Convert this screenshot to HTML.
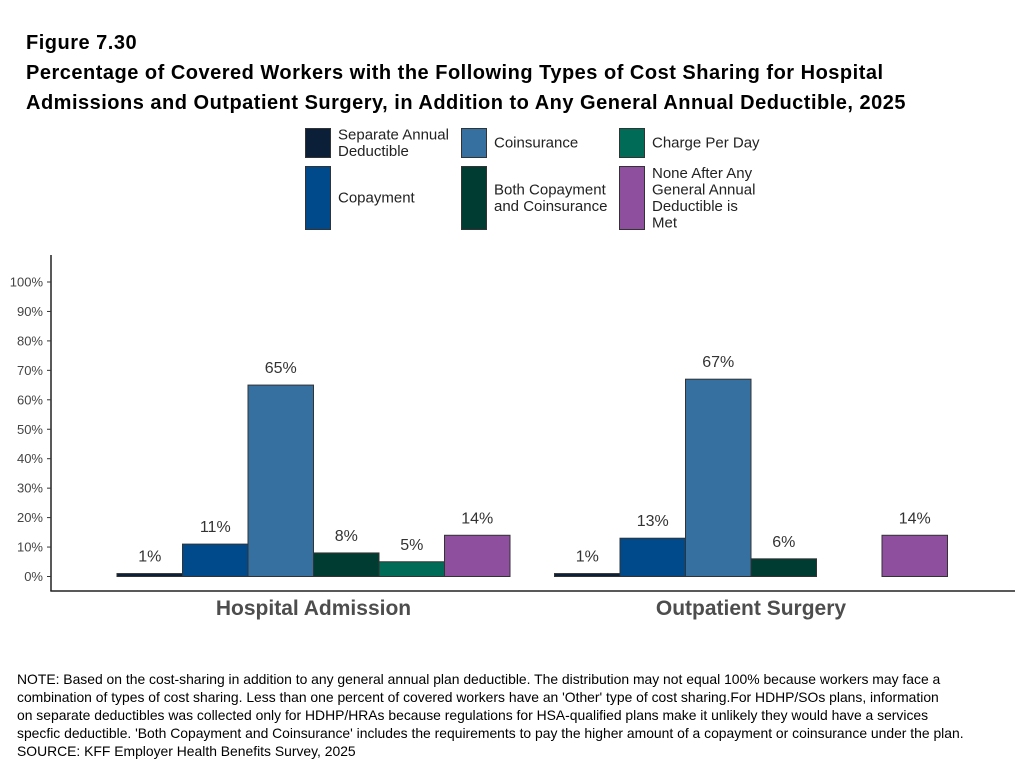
<!DOCTYPE html>
<html><head><meta charset="utf-8">
<style>
body{margin:0;background:#fff;font-family:"Liberation Sans",Arial,sans-serif;}
#wrap{position:relative;width:1023px;height:770px;overflow:hidden;}
.t{position:absolute;left:26px;font-weight:bold;font-size:20px;letter-spacing:0.5px;color:#000;white-space:nowrap;}
.note{position:absolute;left:17px;top:670px;font-size:13.9px;line-height:18px;color:#000;white-space:nowrap;}
</style></head><body>
<div id="wrap">
<div class="t" style="top:32px">Figure 7.30</div>
<div class="t" style="top:62px">Percentage of Covered Workers with the Following Types of Cost Sharing for Hospital</div>
<div class="t" style="top:92px">Admissions and Outpatient Surgery, in Addition to Any General Annual Deductible, 2025</div>
<svg id="svg" width="1023" height="770" style="position:absolute;left:0;top:0"></svg>
<div class="note">NOTE: Based on the cost-sharing in addition to any general annual plan deductible. The distribution may not equal 100% because workers may face a<br>combination of types of cost sharing. Less than one percent of covered workers have an 'Other' type of cost sharing.For HDHP/SOs plans, information<br>on separate deductibles was collected only for HDHP/HRAs because regulations for HSA-qualified plans make it unlikely they would have a services<br>specfic deductible. 'Both Copayment and Coinsurance' includes the requirements to pay the higher amount of a copayment or coinsurance under the plan.<br>SOURCE: KFF Employer Health Benefits Survey, 2025</div>
</div>
<script>
const categories = ["Hospital Admission","Outpatient Surgery"];
const seriesNames = ["Separate Annual Deductible","Copayment","Coinsurance","Both Copayment and Coinsurance","Charge Per Day","None After Any General Annual Deductible is Met"];
const separateDeductible = [1,1];
const copayment = [11,13];
const coinsurance = [65,67];
const bothCopayCoins = [8,6];
const chargePerDay = [5,0];
const noneAfterDeductible = [14,14];
const yTicks = [0,10,20,30,40,50,60,70,80,90,100];

const seriesValues=[separateDeductible,copayment,coinsurance,bothCopayCoins,chargePerDay,noneAfterDeductible];
const colors=["#0b1f38","#004a8b","#3570a0","#003c32","#006b56","#8f4f9f"];
const svg=document.getElementById('svg');
const NS="http://www.w3.org/2000/svg";
function mk(tag,attrs,parent){const e=document.createElementNS(NS,tag);for(const k in attrs)e.setAttribute(k,attrs[k]);(parent||svg).appendChild(e);return e;}
const y0=576.5,y100=282;
const yS=v=>y0-(y0-y100)*v/100;
const groupCenters=[313.5,751];
const bw=65.5;
const xS=(g,s)=>groupCenters[g]+(s-3)*bw;

const legPos=[[305,128,29],[305,166,63],[461,128,29],[461,166,63],[619,128,29],[619,166,63]];
const legLines=[["Separate Annual","Deductible"],["Copayment"],["Coinsurance"],["Both Copayment","and Coinsurance"],["Charge Per Day"],["None After Any","General Annual","Deductible is","Met"]];
[0,1,2,3,4,5].forEach((s,i)=>{
  const [x,y,h]=legPos[i];
  const g=mk('g',{});
  
  
  mk('rect',{x:x+0.5,y:y+0.5,width:25,height:h,fill:colors[s],stroke:'#333','stroke-width':1},g);
  const lines=legLines[s];const lh=16.5;
  const cy=y+h/2;const start=cy-(lines.length-1)*lh/2+5;
  lines.forEach((l,j)=>{const t=mk('text',{x:x+33,y:start+j*lh,'font-size':15,fill:'#222'},g);t.textContent=l;});
});

const ax=mk('line',{x1:51,y1:255,x2:51,y2:591,stroke:'#222','stroke-width':1.5});

const bx=mk('line',{x1:50.3,y1:591,x2:1015,y2:591,stroke:'#222','stroke-width':1.5});

yTicks.forEach(v=>{
  const y=yS(v);
  const tk=mk('line',{x1:47,y1:y,x2:51,y2:y,stroke:'#333','stroke-width':1});
  
  const t=mk('text',{x:43,y:y+4.5,'font-size':13,fill:'#444','text-anchor':'end'});
  
  t.textContent=v+'%';
});
categories.forEach((c,g)=>{
  const t=mk('text',{x:groupCenters[g],y:615,'font-size':21,'font-weight':'bold',fill:'#4d4d4d','text-anchor':'middle'});
  
  t.textContent=c;
});
seriesValues.forEach((arr,s)=>{
  arr.forEach((v,g)=>{
    if(v===null||v===undefined)return;
    const x=xS(g,s),y=yS(v);
    const r=mk('rect',{x:x,y:y,width:bw,height:Math.max(y0-y,0),fill:colors[s],stroke:'#333','stroke-width':1});
    
    if(v>0){
      const t=mk('text',{x:x+bw/2,y:y-12,'font-size':16,fill:'#333','text-anchor':'middle'});
      
      t.textContent=v+'%';
    }
  });
});
</script>
</body></html>
